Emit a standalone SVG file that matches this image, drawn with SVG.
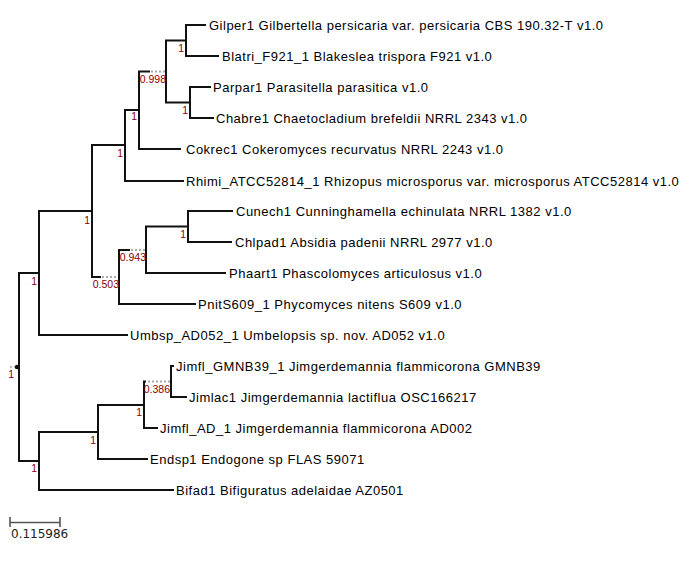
<svg xmlns="http://www.w3.org/2000/svg" width="694" height="566" viewBox="0 0 694 566">
<style>
.bg{fill:#ffffff}
.e{fill:none;stroke:#111;stroke-width:2;stroke-linejoin:miter;stroke-linecap:square}
.d{fill:none;stroke:#aaa;stroke-width:2;stroke-dasharray:2 2}
.leaf{font-family:"Liberation Sans",Arial,sans-serif;font-size:13px;letter-spacing:0.5px;fill:#000}
.sup{font-family:"Liberation Sans",Arial,sans-serif;font-size:10.5px;fill:#8b0000;text-anchor:end}
.sc{font-family:"DejaVu Sans",sans-serif;font-size:12px;fill:#222}
</style>
<rect class="bg" x="0" y="0" width="694" height="566"/>
<g id="connectors">
<path class="e" d="M19 367 V273 H39"/>
<path class="e" d="M19 367 V461 H39"/>
<path class="e" d="M39 273 V211 H92"/>
<path class="e" d="M39 273 V335 H127"/>
<path class="e" d="M92 211 V145 H125"/>
<path class="e" d="M92 211 V277 H100"/>
<path class="d" d="M102 277 H118"/>
<path class="e" d="M125 145 V110 H139"/>
<path class="e" d="M125 145 V181 H183"/>
<path class="e" d="M139 110 V71.5 H149"/>
<path class="d" d="M151 71.5 H165"/>
<path class="e" d="M139 110 V149 H180"/>
<path class="e" d="M166 71.5 V40.5 H186"/>
<path class="e" d="M166 71.5 V102.5 H190"/>
<path class="e" d="M186 40.5 V25 H205"/>
<path class="e" d="M186 40.5 V56 H218"/>
<path class="e" d="M190 102.5 V87 H210"/>
<path class="e" d="M190 102.5 V118 H213"/>
<path class="e" d="M119 277 V250 H129"/>
<path class="d" d="M131 250 H145"/>
<path class="e" d="M119 277 V304 H195"/>
<path class="e" d="M146 250 V226.5 H188"/>
<path class="e" d="M146 250 V273 H225"/>
<path class="e" d="M188 226.5 V211 H232"/>
<path class="e" d="M188 226.5 V242 H231"/>
<path class="e" d="M39 461 V432 H98"/>
<path class="e" d="M39 461 V490 H173"/>
<path class="e" d="M98 432 V405 H144"/>
<path class="e" d="M98 432 V459 H147"/>
<path class="e" d="M144 405 V381.5 H145"/>
<path class="d" d="M148 381.5 H170"/>
<path class="e" d="M144 405 V428 H157"/>
<path class="e" d="M171 381.5 V366 H173"/>
<path class="e" d="M171 381.5 V397 H186"/>
<path class="d" d="M10 367 H15" style="stroke-width:1.5"/>
</g>
<g id="root"><circle cx="17" cy="367" r="2.2" fill="#111"/><text class="sup" x="14" y="378">1</text></g>
<g id="n_J"><text class="sup" x="37" y="285">1</text></g>
<g id="n_I"><text class="sup" x="90" y="224">1</text></g>
<g id="n_E"><text class="sup" x="123" y="157">1</text></g>
<g id="n_D"><text class="sup" x="137" y="120">1</text></g>
<g id="n_C"><text class="sup" x="166" y="83">0.998</text></g>
<g id="n_A"><text class="sup" x="184" y="52">1</text></g>
<g id="n_B"><text class="sup" x="188" y="114">1</text></g>
<g id="n_H"><text class="sup" x="119" y="288">0.503</text></g>
<g id="n_G"><text class="sup" x="146" y="261">0.943</text></g>
<g id="n_F"><text class="sup" x="186" y="238">1</text></g>
<g id="n_N"><text class="sup" x="37" y="472">1</text></g>
<g id="n_M"><text class="sup" x="96" y="444">1</text></g>
<g id="n_L"><text class="sup" x="142" y="416">1</text></g>
<g id="n_K"><text class="sup" x="170" y="393">0.386</text></g>
<g id="leaf_Gilper"><text class="leaf" x="209" y="29.5">Gilper1 Gilbertella persicaria var. persicaria CBS 190.32-T v1.0</text></g>
<g id="leaf_Blatri"><text class="leaf" x="222" y="60.5">Blatri_F921_1 Blakeslea trispora F921 v1.0</text></g>
<g id="leaf_Parpar"><text class="leaf" x="213" y="91.5">Parpar1 Parasitella parasitica v1.0</text></g>
<g id="leaf_Chabre"><text class="leaf" x="216" y="122.5">Chabre1 Chaetocladium brefeldii NRRL 2343 v1.0</text></g>
<g id="leaf_Cokrec"><text class="leaf" x="186" y="153.5">Cokrec1 Cokeromyces recurvatus NRRL 2243 v1.0</text></g>
<g id="leaf_Rhimi"><text class="leaf" x="186" y="185.5">Rhimi_ATCC52814_1 Rhizopus microsporus var. microsporus ATCC52814 v1.0</text></g>
<g id="leaf_Cunech"><text class="leaf" x="236" y="215.5">Cunech1 Cunninghamella echinulata NRRL 1382 v1.0</text></g>
<g id="leaf_Chlpad"><text class="leaf" x="235" y="246.5">Chlpad1 Absidia padenii NRRL 2977 v1.0</text></g>
<g id="leaf_Phaart"><text class="leaf" x="229" y="277.5">Phaart1 Phascolomyces articulosus v1.0</text></g>
<g id="leaf_PnitS"><text class="leaf" x="198" y="308.5">PnitS609_1 Phycomyces nitens S609 v1.0</text></g>
<g id="leaf_Umbsp"><text class="leaf" x="130" y="339.5">Umbsp_AD052_1 Umbelopsis sp. nov. AD052 v1.0</text></g>
<g id="leaf_JimflG"><text class="leaf" x="176" y="370.5">Jimfl_GMNB39_1 Jimgerdemannia flammicorona GMNB39</text></g>
<g id="leaf_Jimlac"><text class="leaf" x="189" y="401.5">Jimlac1 Jimgerdemannia lactiflua OSC166217</text></g>
<g id="leaf_JimflA"><text class="leaf" x="160" y="432.5">Jimfl_AD_1 Jimgerdemannia flammicorona AD002</text></g>
<g id="leaf_Endsp"><text class="leaf" x="150" y="463.5">Endsp1 Endogone sp FLAS 59071</text></g>
<g id="leaf_Bifad"><text class="leaf" x="176" y="494.5">Bifad1 Bifiguratus adelaidae AZ0501</text></g>
<g id="scalebar">
<path d="M10 522.5 H60 M10 517 V527 M60 517 V527" fill="none" stroke="#555" stroke-width="1.6"/>
<text class="sc" x="11" y="538">0.115986</text>
</g>
</svg>
